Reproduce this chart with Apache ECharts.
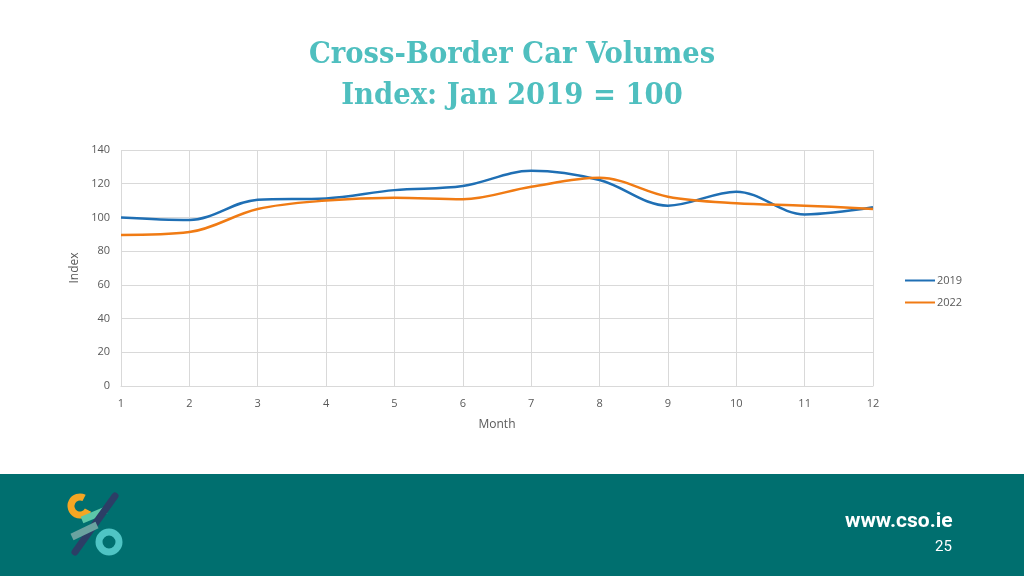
<!DOCTYPE html>
<html><head><meta charset="utf-8">
<script src="https://cdn.jsdelivr.net/npm/echarts@6/dist/echarts.min.js"></script>
<style>html,body{margin:0;padding:0;background:#fff}#c{width:1024px;height:576px}</style>
</head><body><div id="c"></div>
<script>
const months = ['1','2','3','4','5','6','7','8','9','10','11','12'];
const s2019 = [100, 98.5, 110.5, 111.3, 116.2, 118.6, 127.7, 122.2, 107, 115.3, 101.8, 106];
const s2022 = [89.6, 91.3, 105, 110, 111.7, 110.8, 118.2, 123.5, 112.3, 108.4, 107, 105];
const yTicks = [0, 20, 40, 60, 80, 100, 120, 140];
const titleLines = ['Cross-Border Car Volumes', 'Index: Jan 2019 = 100'];

const chart = echarts.init(document.getElementById('c'), null, {renderer: 'canvas'});
const titleColor = '#4fbfbf';
const gridColor = '#d9d9d9';
const labelColor = '#595959';
chart.setOption({
  animation: false,
  backgroundColor: '#ffffff',
  title: {
    text: titleLines.join('\n'),
    left: 'center', top: 30,
    textStyle: {fontFamily: 'DejaVu Serif Condensed', fontWeight: 'bold', fontSize: 30.5, lineHeight: 41, color: titleColor}
  },
  legend: {
    orient: 'vertical', left: 900, top: 270, itemGap: 11,
    itemWidth: 30, itemHeight: 14,
    icon: 'path://M0,6 L30,6 L30,8 L0,8 Z',
    textStyle: {fontFamily: 'Open Sans', fontSize: 11, color: labelColor, padding: [0,0,0,-3]},
    data: ['2019', '2022']
  },
  grid: {left: 121, right: 151, top: 150, bottom: 190},
  xAxis: {
    type: 'category', data: months, boundaryGap: false,
    name: 'Month', nameLocation: 'middle', nameGap: 33,
    nameTextStyle: {fontFamily: 'Open Sans', fontSize: 12, color: labelColor},
    axisLine: {lineStyle: {color: gridColor}},
    axisTick: {show: false},
    axisLabel: {fontFamily: 'Open Sans', fontSize: 11, color: labelColor, margin: 12},
    splitLine: {show: true, lineStyle: {color: gridColor}}
  },
  yAxis: {
    type: 'value', min: yTicks[0], max: yTicks[yTicks.length-1], interval: 20,
    name: 'Index', nameLocation: 'middle', nameGap: 36,
    nameTextStyle: {fontFamily: 'Open Sans', fontSize: 12, color: labelColor},
    axisLine: {show: false}, axisTick: {show: false},
    axisLabel: {fontFamily: 'Open Sans', fontSize: 11, color: labelColor, margin: 11},
    splitLine: {lineStyle: {color: gridColor}}
  },
  series: [
    {name: '2019', type: 'line', data: s2019, smooth: 0.35, showSymbol: false,
     lineStyle: {color: '#1f6fb4', width: 2.5}, itemStyle: {color: '#1f6fb4'}},
    {name: '2022', type: 'line', data: s2022, smooth: 0.35, showSymbol: false,
     lineStyle: {color: '#f07b14', width: 2.5}, itemStyle: {color: '#f07b14'}}
  ],
  graphic: [
    {type: 'rect', left: 0, top: 474, shape: {width: 1024, height: 102}, style: {fill: '#006f6f'}, z: -1},
    {type: 'text', left: 845, top: 511, style: {text: 'www.cso.ie', fill: '#ffffff', font: 'bold 21px Roboto, sans-serif'}},
    {type: 'text', left: 935, top: 540, style: {text: '25', fill: '#ffffff', font: '15px Roboto, sans-serif'}},
    {type: 'arc', shape: {cx: 80, cy: 506, r: 9, startAngle: Math.PI*0.15, endAngle: Math.PI*1.65, clockwise: true}, style: {stroke: '#f5a623', lineWidth: 7, fill: null}},
    {type: 'line', shape: {x1: 82, y1: 520, x2: 106, y2: 510}, style: {stroke: '#5cc8a8', lineWidth: 7}},
    {type: 'line', shape: {x1: 115, y1: 496, x2: 75, y2: 552}, style: {stroke: '#2c3e66', lineWidth: 7, lineCap: 'round'}},
    {type: 'line', shape: {x1: 72, y1: 537, x2: 97, y2: 525}, style: {stroke: '#6aa3a0', lineWidth: 7}},
    {type: 'circle', shape: {cx: 109, cy: 542, r: 10}, style: {stroke: '#4fc4c4', lineWidth: 7, fill: null}}
  ]
});
</script></body></html>
